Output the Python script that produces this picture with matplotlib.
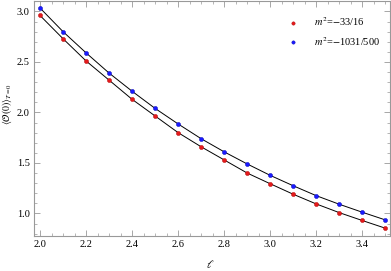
import matplotlib
matplotlib.use('Agg')
from matplotlib import pyplot as plt
from matplotlib.ticker import MultipleLocator

# data
ell = [2.0, 2.1, 2.2, 2.3, 2.4, 2.5, 2.6, 2.7, 2.8, 2.9, 3.0, 3.1, 3.2, 3.3, 3.4, 3.5]
red_vals = [2.96, 2.73, 2.51, 2.32, 2.13, 1.965, 1.80, 1.66, 1.53, 1.40, 1.294, 1.19, 1.094, 1.008, 0.93, 0.854]
blue_vals = [3.034, 2.80, 2.59, 2.39, 2.21, 2.04, 1.886, 1.74, 1.61, 1.49, 1.377, 1.274, 1.176, 1.091, 1.012, 0.936]
red_label = r'$m^2$=$-$33/16'
blue_label = r'$m^2$=$-$1031/500'

plt.rcParams['font.family'] = ['Liberation Serif', 'DejaVu Serif']
plt.rcParams['mathtext.fontset'] = 'stix'

fig = plt.figure(figsize=(3.91, 2.71), dpi=100)
ax = fig.add_axes([0.087, 0.129, 0.910, 0.868])

ax.plot(ell, red_vals, '-', color='black', lw=0.7)
ax.plot(ell, blue_vals, '-', color='black', lw=0.7)
ax.plot(ell, red_vals, 'o', color='#e41a1c', ms=3, mec='#b00000', mew=0.3, label=red_label)
ax.plot(ell, blue_vals, 'o', color='#1a1aff', ms=3, mec='#0000b0', mew=0.3, label=blue_label)

ax.set_xlim(1.974, 3.52)
ax.set_ylim(0.776, 3.105)
ax.xaxis.set_major_locator(MultipleLocator(0.2))
ax.xaxis.set_minor_locator(MultipleLocator(0.05))
ax.yaxis.set_major_locator(MultipleLocator(0.5))
ax.yaxis.set_minor_locator(MultipleLocator(0.1))
ax.tick_params(which='both', direction='in', top=True, right=True, color='#999999', labelsize=7.5, pad=3)
ax.tick_params(which='major', length=4, width=0.6)
ax.tick_params(which='minor', length=2, width=0.5)
for s in ax.spines.values():
    s.set_color('#999999')
    s.set_linewidth(0.8)

ax.set_xlabel(r'$\ell$', fontsize=8)
ax.set_ylabel(r'$\langle \mathcal{O}(0)\rangle_{T=0}$', fontsize=7)
ax.xaxis.set_label_coords(0.495, -0.095)
ax.yaxis.set_label_coords(-0.057, 0.56)

ax.legend(loc='upper right', frameon=False, fontsize=7.5, handletextpad=1.0,
          markerscale=0.8, borderaxespad=0.0, labelspacing=0.6, bbox_to_anchor=(0.985, 0.955))

fig.savefig('out.png', dpi=100)
